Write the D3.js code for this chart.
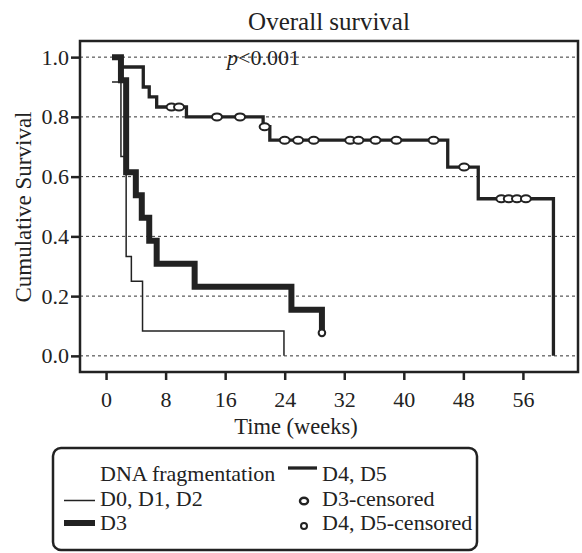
<!DOCTYPE html>
<html>
<head>
<meta charset="utf-8">
<script src="https://cdn.jsdelivr.net/npm/d3@7"></script>
<style>
body { margin: 0; background: #fff; }
text { font-family: "Liberation Serif", "Times New Roman", serif; fill: #222; }
</style>
</head>
<body>
<svg id="chart" width="582" height="553"></svg>
<script>
// Kaplan-Meier steps: time of each step (weeks) and survival after it
var timesD012 = [0.8, 2.0, 2.7, 3.4, 4.9, 23.9];
var survD012  = [0.917, 0.667, 0.333, 0.25, 0.083, 0];

var timesD3 = [0.8, 2.0, 2.7, 4.0, 4.8, 5.8, 6.8, 11.9, 24.9, 29.0];
var survD3  = [1, 0.923, 0.615, 0.538, 0.462, 0.385, 0.308, 0.231, 0.154, 0.077];
var censD3  = [29.0];

var timesD45 = [0.8, 2.0, 5.0, 5.8, 6.8, 10.8, 21.1, 22.0, 45.9, 50.0, 60.1];
var survD45  = [1, 0.967, 0.9, 0.867, 0.833, 0.8, 0.767, 0.722, 0.632, 0.526, 0];
var censD45  = [8.8, 9.8, 14.9, 18.0, 21.3, 24.0, 25.8, 27.9, 32.8, 33.9, 36.2, 39.0, 44.0, 48.1, 53.1, 54.1, 55.2, 56.4];

var xTicks = [0, 8, 16, 24, 32, 40, 48, 56];
var yTicks = [0, 0.2, 0.4, 0.6, 0.8, 1.0];

var margin = {top: 41, right: 4, bottom: 181, left: 80},
    width = 582 - margin.left - margin.right,
    height = 553 - margin.top - margin.bottom;

var root = d3.select("#chart");
var svg = root.append("g")
    .attr("transform", "translate(" + margin.left + "," + margin.top + ")");

var x = d3.scaleLinear().domain([-3.5, 63.4]).range([0, width]);
var y = d3.scaleLinear().domain([-0.054, 1.054]).range([height, 0]);

// dashed grid
svg.selectAll(".grid")
    .data(yTicks)
    .enter().append("line")
    .attr("x1", 0)
    .attr("x2", width)
    .attr("y1", function(d) { return y(d); })
    .attr("y2", function(d) { return y(d); })
    .attr("stroke", "#333")
    .attr("stroke-width", 1)
    .attr("stroke-dasharray", "3,3");

// axes
var yAxis = svg.append("g")
    .call(d3.axisLeft(y).tickValues(yTicks).tickFormat(d3.format(".1f")).tickSize(9).tickPadding(2));
var xAxis = svg.append("g")
    .attr("transform", "translate(0," + height + ")")
    .call(d3.axisBottom(x).tickValues(xTicks).tickSize(8).tickPadding(11));
[yAxis, xAxis].forEach(function(a) {
    a.select(".domain").remove();
    a.selectAll(".tick line").attr("stroke", "#222").attr("stroke-width", 2.5);
    a.selectAll(".tick text").style("font-size", "22px").attr("fill", "#222")
        .style("font-family", "'Liberation Serif', serif");
});

// frame
svg.append("rect")
    .attr("width", width)
    .attr("height", height)
    .attr("fill", "none")
    .attr("stroke", "#222")
    .attr("stroke-width", 2.5);

var step = d3.line()
    .curve(d3.curveStepAfter)
    .x(function(d) { return x(d[0]); })
    .y(function(d) { return y(d[1]); });

function survAt(times, surv, t) {
    return surv[Math.max(0, d3.bisectRight(times, t) - 1)];
}

svg.append("path")
    .datum(d3.zip(timesD012, survD012))
    .attr("fill", "none")
    .attr("stroke", "#222")
    .attr("stroke-width", 1.5)
    .attr("d", step);
svg.append("path")
    .datum(d3.zip(timesD45, survD45))
    .attr("fill", "none")
    .attr("stroke", "#222")
    .attr("stroke-width", 3.3)
    .attr("d", step);
svg.append("path")
    .datum(d3.zip(timesD3, survD3))
    .attr("fill", "none")
    .attr("stroke", "#222")
    .attr("stroke-width", 6)
    .attr("d", step);

// censored marks
svg.selectAll(".c45")
    .data(censD45)
    .enter().append("ellipse")
    .attr("cx", function(d) { return x(d); })
    .attr("cy", function(d) { return y(survAt(timesD45, survD45, d)); })
    .attr("rx", 5)
    .attr("ry", 3.5)
    .attr("fill", "#fff")
    .attr("stroke", "#222")
    .attr("stroke-width", 2);
svg.selectAll(".c3")
    .data(censD3)
    .enter().append("circle")
    .attr("cx", function(d) { return x(d); })
    .attr("cy", function(d) { return y(survAt(timesD3, survD3, d)); })
    .attr("r", 3.3)
    .attr("fill", "#fff")
    .attr("stroke", "#222")
    .attr("stroke-width", 2);

// titles
root.append("text")
    .attr("x", 329)
    .attr("y", 30)
    .attr("text-anchor", "middle")
    .style("font-size", "25px")
    .text("Overall survival");
var pv = root.append("text")
    .attr("x", 227)
    .attr("y", 65)
    .style("font-size", "22px");
pv.append("tspan").style("font-style", "italic").text("p");
pv.append("tspan").text("<0.001");
root.append("text")
    .attr("transform", "translate(31,207) rotate(-90)")
    .attr("text-anchor", "middle")
    .style("font-size", "23px")
    .text("Cumulative Survival");
root.append("text")
    .attr("x", 296)
    .attr("y", 434)
    .attr("text-anchor", "middle")
    .style("font-size", "22.5px")
    .text("Time (weeks)");

// legend
var lg = root.append("g");
lg.append("rect")
    .attr("x", 53)
    .attr("y", 448)
    .attr("width", 424)
    .attr("height", 102)
    .attr("rx", 8)
    .attr("fill", "none")
    .attr("stroke", "#222")
    .attr("stroke-width", 2.5);
var lgText = [
    {x: 100, y: 481, t: "DNA fragmentation"},
    {x: 100, y: 506, t: "D0, D1, D2"},
    {x: 100, y: 530, t: "D3"},
    {x: 322, y: 481, t: "D4, D5"},
    {x: 322, y: 506, t: "D3-censored"},
    {x: 322, y: 530, t: "D4, D5-censored"}
];
lg.selectAll(".lt")
    .data(lgText)
    .enter().append("text")
    .attr("x", function(d) { return d.x; })
    .attr("y", function(d) { return d.y; })
    .style("font-size", "22px")
    .text(function(d) { return d.t; });
var lgLines = [
    {x1: 64, x2: 95, y: 500.5, w: 1.5},
    {x1: 64, x2: 95, y: 523, w: 6},
    {x1: 288, x2: 317, y: 468, w: 3.3}
];
lg.selectAll(".ll")
    .data(lgLines)
    .enter().append("line")
    .attr("x1", function(d) { return d.x1; })
    .attr("x2", function(d) { return d.x2; })
    .attr("y1", function(d) { return d.y; })
    .attr("y2", function(d) { return d.y; })
    .attr("stroke", "#222")
    .attr("stroke-width", function(d) { return d.w; });
lg.append("ellipse")
    .attr("cx", 304).attr("cy", 501)
    .attr("rx", 4).attr("ry", 3.3)
    .attr("fill", "#fff").attr("stroke", "#222").attr("stroke-width", 2.5);
lg.append("circle")
    .attr("cx", 304).attr("cy", 526)
    .attr("r", 3)
    .attr("fill", "#fff").attr("stroke", "#222").attr("stroke-width", 2);
</script>
</body>
</html>
